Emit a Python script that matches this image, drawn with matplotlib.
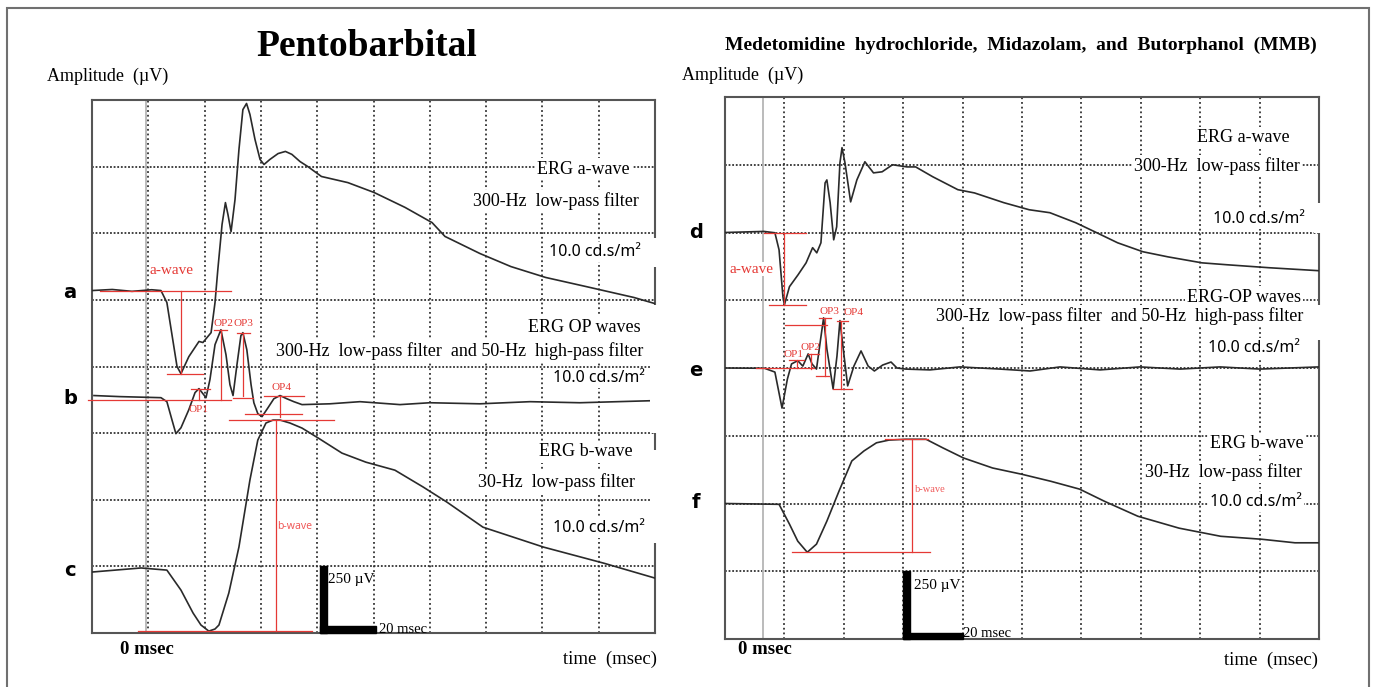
import numpy as np
import matplotlib.pyplot as plt
from matplotlib.patches import Rectangle

# ---- ERG traces: time (msec), amplitude (uV) relative to each trace's baseline ----
# Pentobarbital
a_t = [-19.2, -12.0, -5.0, 2.0, 5.3, 7.4, 11.0, 12.4, 15.2, 18.8, 20.2, 23.1, 24.5, 25.5, 27.0,
       28.2, 29.1, 30.2, 31.6, 33.0, 34.4, 35.7, 36.9, 38.7, 40.5, 41.9, 44.0, 46.9, 49.5, 51.8,
       54.7, 57.5, 62.3, 71.7, 81.0, 92.0, 101.6, 106.2, 118.6, 129.6, 142.0, 156.3, 173.3, 180.8]
a_uv = [0, 4, -3, 3, 0, -45, -285, -312, -248, -191, -195, -158, -45, 79, 248,
        330, 285, 221, 341, 529, 679, 702, 661, 567, 492, 473, 492, 514, 522, 511,
        484, 465, 428, 405, 368, 312, 255, 203, 139, 90, 49, 15, -26, -49]

b_t = [-18.5, -9.3, 5.3, 7.4, 9.2, 10.6, 12.4, 15.2, 17.4, 18.8, 20.2, 21.3, 22.7, 24.5, 26.6,
       28.4, 29.8, 30.9, 32.3, 33.7, 34.4, 35.8, 37.3, 38.3, 39.7, 41.2, 43.3, 45.4, 47.6, 50.0,
       52.5, 55.4, 65.3, 76.0, 90.2, 100.8, 118.6, 136.4, 154.1, 180.8]
b_uv = [8, 4, 0, -15, -83, -135, -113, -45, 19, 34, 15, 0, 68, 199, 255,
        161, 49, 8, 124, 233, 244, 180, 49, -19, -60, -71, -38, -4, 8, -4,
        -15, -26, -23, -15, -26, -19, -23, -15, -19, -11]

c_t = [-18.9, -1.8, 7.4, 12.4, 16.7, 19.5, 22.3, 24.5, 25.9, 29.4, 33.0, 36.9, 39.7, 42.6,
       45.1, 47.6, 51.1, 55.4, 61.1, 69.6, 78.1, 88.4, 98.4, 106.9, 119.7, 141.3, 162.6, 180.8]
c_uv = [-10, 5, -3, -78, -164, -209, -232, -224, -209, -89, 84, 335, 485, 549,
        560, 560, 549, 530, 493, 436, 402, 372, 309, 252, 158, 83, 23, -33]

# MMB
d_t = [-12.8, 0.3, 4.0, 5.4, 6.7, 7.2, 8.9, 11.8, 14.5, 16.7, 18.1, 19.5, 20.9, 21.5, 22.6,
       23.8, 24.8, 25.9, 26.6, 27.6, 29.5, 31.6, 34.3, 37.2, 40.1, 43.6, 48.5, 51.4, 57.1, 65.6,
       71.2, 81.1, 89.6, 96.6, 105.3, 112.4, 119.4, 127.9, 136.4, 147.8, 156.2, 170.4, 187.2]
d_uv = [0, 4, -1, -64, -237, -267, -200, -156, -112, -56, -75, -38, 183, 194, 110,
        -27, 21, 257, 313, 257, 113, 194, 261, 220, 224, 250, 242, 242, 206, 158,
        146, 110, 84, 73, 36, -1, -38, -71, -90, -112, -119, -130, -141]

e_t = [-12.8, 0.5, 4.0, 6.4, 8.2, 9.6, 11.7, 13.4, 15.2, 16.5, 18.0, 19.4, 20.4, 21.5, 23.6,
       24.9, 25.9, 27.3, 28.5, 30.6, 33.0, 35.4, 37.5, 40.3, 43.1, 45.1, 48.0, 56.2, 66.3, 79.8,
       89.9, 100.0, 113.5, 126.9, 140.4, 153.9, 167.3, 187.2]
e_uv = [0, -1, -15, -148, -41, 15, 27, 7, 52, 15, -4, 107, 185, 70, -77,
        44, 175, 44, -66, 7, 63, 7, -11, 11, 22, 0, -4, -7, 4, -4,
        -11, 4, -7, 4, -4, 4, -4, 4]

f_t = [-12.8, 5.4, 8.9, 11.7, 14.9, 18.0, 21.5, 25.6, 29.9, 34.0, 38.2, 42.4, 48.0, 54.9,
       60.6, 67.5, 77.3, 87.1, 96.9, 106.6, 115.0, 126.2, 140.1, 154.1, 168.0, 179.1, 187.2]
f_uv = [0, -3, -76, -139, -180, -150, -65, 46, 157, 194, 224, 234, 237, 237,
        205, 168, 131, 108, 82, 53, 8, -47, -91, -121, -132, -145, -145]

# baselines of the stacked traces (uV on the 0-2000 panel scale)
BASE_A, BASE_B, BASE_C = 1285, 883, 239
BASE_D, BASE_E, BASE_F = 1500, 1000, 500

SCALE_MS = 20
SCALE_UV = 250

# ---- style ----
W, H = 1375, 687
SERIF = 'Liberation Serif'
SANS = 'Noto Sans'
RED = '#e53935'
TRACE = '#2a2a2a'


def fx(x):
    return x / W


def fy(y):
    return 1 - y / H


def pick(t, v, lo, hi, fn=np.argmax):
    t = np.asarray(t, float)
    v = np.asarray(v, float)
    m = (t >= lo) & (t <= hi)
    i = fn(v[m])
    return t[m][i], v[m][i]


def setup_panel(ax, xlim):
    ax.set_xlim(xlim)
    ax.set_ylim(0, 2000)
    for k in range(1, 10):
        ax.axvline(xlim[0] + SCALE_MS * k, color='#333', lw=1.3, ls=(0, (1, 1.6)), zorder=1)
    for k in range(1, 8):
        ax.axhline(SCALE_UV * k, color='#333', lw=1.3, ls=(0, (1, 1.0)), zorder=1)
    ax.axvline(0, color='#b5b5b5', lw=1.3, zorder=1.5)
    ax.set_xticks([])
    ax.set_yticks([])
    for s in ax.spines.values():
        s.set_color('#555')
        s.set_linewidth(1.5)


def red_h(ax, y, t0, t1):
    ax.plot([t0, t1], [y, y], color=RED, lw=0.9, clip_on=False, zorder=4)


def red_v(ax, t, y0, y1):
    ax.plot([t, t], [y0, y1], color=RED, lw=0.9, clip_on=False, zorder=4)


def red_txt(ax, t, y, s, size=8, **kw):
    ax.text(t, y, s, color=RED, fontsize=size, family=SERIF, ha='center', zorder=5, **kw)


def scale_bar(ax, t0, w_ms, h_uv):
    ax.add_patch(Rectangle((t0, 0), w_ms, SCALE_UV, color='black', clip_on=False, zorder=4))
    ax.add_patch(Rectangle((t0, 0), SCALE_MS, h_uv, color='black', clip_on=False, zorder=4))


def label(x, y, s, size=13, family=SERIF, ha='right', weight='normal', box=True):
    kw = dict(bbox=dict(fc='white', ec='none', pad=1.5)) if box else {}
    fig.text(fx(x), fy(y), s, fontsize=size, family=family, ha=ha, va='center',
             weight=weight, zorder=5, **kw)


fig = plt.figure(figsize=(W / 100, H / 100), dpi=100)
axL = fig.add_axes([fx(92), fy(633), 563 / W, 533 / H])
axR = fig.add_axes([fx(725), fy(639), 594 / W, 542 / H])
setup_panel(axL, (-19.2, 180.8))
setup_panel(axR, (-12.8, 187.2))

for ax, t, v, base in [(axL, a_t, a_uv, BASE_A), (axL, b_t, b_uv, BASE_B), (axL, c_t, c_uv, BASE_C),
                       (axR, d_t, d_uv, BASE_D), (axR, e_t, e_uv, BASE_E), (axR, f_t, f_uv, BASE_F)]:
    ax.plot(t, np.asarray(v) + base, color=TRACE, lw=1.2, zorder=3)

# ---- Pentobarbital annotations ----
ta, va = pick(a_t, a_uv, 0, 20, np.argmin)
red_h(axL, BASE_A, -16.3, 30.2)
red_v(axL, ta, BASE_A, BASE_A + va)
red_h(axL, BASE_A + va, 7.5, 20.2)
red_txt(axL, 9.2, BASE_A + 77, 'a-wave', size=11, va='center')

red_h(axL, BASE_B - 10, -20.6, 30.2)
op1 = pick(b_t, b_uv, 15, 22)
op2 = pick(b_t, b_uv, 24, 30)
op3 = pick(b_t, b_uv, 32, 37)
op3b = pick(b_t, b_uv, 29, 33, np.argmin)
op4 = pick(b_t, b_uv, 45, 52)
op4b = pick(b_t, b_uv, 38, 45, np.argmin)
red_v(axL, op1[0], BASE_B - 10, BASE_B + op1[1])
red_h(axL, BASE_B + op1[1], op1[0] - 2.8, op1[0] + 3.9)
red_v(axL, op2[0], BASE_B - 10, BASE_B + op2[1])
red_h(axL, BASE_B + op2[1], op2[0] - 2.4, op2[0] + 2.2)
red_v(axL, op3[0], BASE_B + op3b[1], BASE_B + op3[1])
red_h(axL, BASE_B + op3[1], op3[0] - 2.1, op3[0] + 2.5)
red_h(axL, BASE_B + op3b[1] - 8, op3b[0], op3b[0] + 7.1)
red_v(axL, op4[0], BASE_B + op4b[1], BASE_B + op4[1])
red_h(axL, BASE_B + op4[1], op4[0] - 5.7, op4[0] + 8.5)
red_h(axL, BASE_B + op4b[1] + 10, op4b[0] - 6.0, op4b[0] + 14.2)
red_txt(axL, op1[0], BASE_B - 46, 'OP1', va='center')
red_txt(axL, op2[0] + 0.8, BASE_B + op2[1] + 8, 'OP2', va='bottom')
red_txt(axL, op3[0] + 0.2, BASE_B + op2[1] + 8, 'OP3', va='bottom')
red_txt(axL, op4[0] + 0.4, BASE_B + op4[1] + 14, 'OP4', va='bottom')

tb, vb = pick(c_t, c_uv, 30, 60)
tbt, vbt = pick(c_t, c_uv, 10, 30, np.argmin)
red_h(axL, BASE_C + vbt, -2.8, 59.0)
red_h(axL, BASE_C + vb, 29.5, 66.8)
red_v(axL, tb + 1.0, BASE_C + vbt, BASE_C + vb)
axL.text(tb + 1.6, 398, 'b-wave', color='#f05a5a', fontsize=7.5, family=SANS,
         ha='left', va='center', zorder=5)
scale_bar(axL, 61.8, 2.5, 26)
axL.text(64.6, 199, '250 \u00b5V', fontsize=11, family=SERIF, ha='left', va='center', zorder=5)
axL.text(82.6, 15, '20 msec', fontsize=10.5, family=SERIF, ha='left', va='center', zorder=5)

# ---- MMB annotations ----
td, vd = pick(d_t, d_uv, 0, 15, np.argmin)
red_h(axR, BASE_D, 0.3, 14.5)
red_v(axR, td, BASE_D, BASE_D + vd)
red_h(axR, BASE_D + vd, 2.0, 14.5)
axR.text(-3.9, BASE_D - 135, 'a-wave', color=RED, fontsize=11, family=SERIF, ha='center',
         va='center', zorder=5, bbox=dict(fc='white', ec='none', pad=0.5))

red_h(axR, BASE_E, -2.4, 17.2)
e1 = pick(e_t, e_uv, 9, 13)
e2 = pick(e_t, e_uv, 14, 17)
e3 = pick(e_t, e_uv, 19, 22)
e3b = pick(e_t, e_uv, 16, 20, np.argmin)
e4 = pick(e_t, e_uv, 24.5, 27)
e4b = pick(e_t, e_uv, 22, 25, np.argmin)
red_v(axR, e1[0] - 0.3, BASE_E, BASE_E + e1[1])
red_h(axR, BASE_E + e1[1] + 4, e1[0] - 2.8, e1[0] + 2.1)
red_v(axR, e2[0] + 1.0, BASE_E - 4, BASE_E + e2[1])
red_h(axR, BASE_E + e2[1], e2[0], e2[0] + 3.5)
red_v(axR, e3[0] + 0.5, BASE_E + e3b[1] - 25, BASE_E + e3[1])
red_h(axR, BASE_E + e3[1], e3[0] - 1.7, e3[0] + 2.5)
red_h(axR, BASE_E + e3b[1] - 25, e3b[0], e3b[0] + 4.2)
red_h(axR, BASE_E + e4[1] - 15, 7.4, 21.5)
red_v(axR, e4[0] + 0.4, BASE_E + e4b[1], BASE_E + e4[1])
red_h(axR, BASE_E + e4[1], e4[0] - 1.0, e4[0] + 2.6)
red_h(axR, BASE_E + e4b[1], e4b[0], e4b[0] + 6.4)
red_txt(axR, e1[0] - 1.4, BASE_E + e1[1] + 8, 'OP1', va='bottom')
red_txt(axR, e2[0] + 0.6, BASE_E + e2[1] + 8, 'OP2', va='bottom')
red_txt(axR, e3[0] + 1.8, BASE_E + e3[1] + 8, 'OP3', va='bottom')
red_txt(axR, e4[0] + 4.7, BASE_E + e4[1] + 14, 'OP4', va='bottom')

tf, vf = pick(f_t, f_uv, 30, 60)
tft, vft = pick(f_t, f_uv, 5, 25, np.argmin)
red_h(axR, BASE_F + vf, 41.1, 55.6)
red_h(axR, BASE_F + vft, 9.6, 56.1)
red_v(axR, tf + 2.2, BASE_F + vft, BASE_F + vf)
axR.text(tf + 3.2, BASE_F + 50, 'b-wave', color='#f05a5a', fontsize=7.5, family=SERIF,
         ha='left', va='center', zorder=5)
scale_bar(axR, 47.2, 2.4, 22)
axR.text(50.8, 199, '250 \u00b5V', fontsize=11, family=SERIF, ha='left', va='center', zorder=5)
axR.text(67.3, 22, '20 msec', fontsize=10.5, family=SERIF, ha='left', va='center', zorder=5)

# ---- white patches hiding parts of the box edge behind the labels ----
for x, y0, y1 in [(655, 238, 267), (655, 305, 433), (655, 450, 543),
                  (1319, 203, 233), (1319, 305, 340)]:
    fig.add_artist(Rectangle((fx(x - 5), fy(y1)), 10 / W, (y1 - y0) / H,
                             transform=fig.transFigure, fc='white', ec='none', zorder=2))

# outer frame (open at the bottom)
fig.add_artist(Rectangle((fx(7), fy(720)), 1362 / W, 712 / H, transform=fig.transFigure,
                         fill=False, ec='#707070', lw=1.5, zorder=2))

# ---- texts ----
label(367, 47, 'Pentobarbital', size=27, ha='center', weight='bold', box=False)
label(1021, 45, 'Medetomidine  hydrochloride,  Midazolam,  and  Butorphanol  (MMB)',
      size=14, ha='center', weight='bold', box=False)
label(47, 76, 'Amplitude  (\u00b5V)', size=13, ha='left', box=False)
label(682, 75, 'Amplitude  (\u00b5V)', size=13, ha='left', box=False)

for x, y, s in [(70, 292, 'a'), (70, 398, 'b'), (70, 570, 'c'),
                (696, 232, 'd'), (696, 370, 'e'), (696, 502, 'f')]:
    label(x, y, s, size=14, family='DejaVu Sans', ha='center', weight='bold', box=False)

MLAB = [(630, 169, 'ERG a-wave'), (639, 201, '300-Hz  low-pass filter'),
        (641, 327, 'ERG OP waves'),
        (643, 351, '300-Hz  low-pass filter  and 50-Hz  high-pass filter'),
        (633, 452, 'ERG b-wave'), (635, 482, '30-Hz  low-pass filter'),
        (1290, 138, 'ERG a-wave'), (1300, 166, '300-Hz  low-pass filter'),
        (1301, 297, 'ERG-OP waves'),
        (1303, 316, '300-Hz  low-pass filter  and 50-Hz  high-pass filter'),
        (1304, 444, 'ERG b-wave'), (1302, 472, '30-Hz  low-pass filter')]
for x, y, s in MLAB:
    label(x, y, s)

for x, y in [(641, 252), (645, 378), (645, 528), (1305, 219), (1300, 348), (1302, 502)]:
    label(x, y, '10.0 cd.s/m\u00b2', size=11.5, family=SANS)

label(147, 650, '0 msec', size=13.5, ha='center', weight='bold', box=False)
label(765, 650, '0 msec', size=13.5, ha='center', weight='bold', box=False)
label(657, 659, 'time  (msec)', size=13.5, box=False)
label(1318, 660, 'time  (msec)', size=13.5, box=False)

fig.savefig('out.png', dpi=100, facecolor='white')
